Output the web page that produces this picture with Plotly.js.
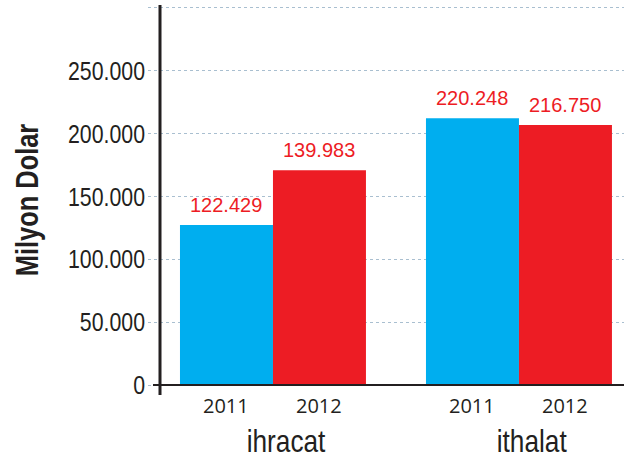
<!DOCTYPE html>
<html>
<head>
<meta charset="utf-8">
<script src="https://cdn.plot.ly/plotly-3.0.1.min.js"></script>
<style>html,body{margin:0;padding:0;background:#fff;}#chart{width:624px;height:459px;}</style>
</head>
<body>
<div id="chart"></div>
<script>
const categories = ["ihracat", "ithalat"];
const years = ["2011", "2012"];
const values2011 = [127200, 212200];
const values2012 = [170900, 206900];
const labels2011 = ["122.429", "220.248"];
const labels2012 = ["139.983", "216.750"];
const yTickVals = [0, 50000, 100000, 150000, 200000, 250000, 300000];
const yTickText = ["0", "50.000", "100.000", "150.000", "200.000", "250.000", ""];

const blue = "#00aeef", red = "#ed1c24", ink = "#231f20";
const baseFont = "Liberation Sans, Arial, sans-serif";
const condense = 0.82;
const bargap = 0.244;
const half = (1 - bargap) / 4;

const traces = [
  {type: "bar", name: years[0], x: categories, y: values2011, marker: {color: blue}, hoverinfo: "skip"},
  {type: "bar", name: years[1], x: categories, y: values2012, marker: {color: red}, hoverinfo: "skip"}
];

const annotations = [];
categories.forEach((c, i) => {
  [[values2011, labels2011, -half, years[0]], [values2012, labels2012, half, years[1]]].forEach(([vals, labs, off, yr]) => {
    annotations.push({x: i + off, y: vals[i], xref: "x", yref: "y", text: labs[i], showarrow: false,
      yanchor: "bottom", yshift: 7, font: {family: baseFont, size: 20, color: red}});
    annotations.push({x: i + off, y: 0, xref: "x", yref: "paper", text: yr, showarrow: false,
      yanchor: "middle", yshift: -10, font: {family: "Open Sans, sans-serif", size: 20, color: ink}});
  });
  annotations.push({x: i, y: 0, xref: "x", yref: "paper", text: c, showarrow: false, xshift: 13,
    yanchor: "middle", yshift: -46, font: {family: baseFont, size: 32, color: ink}});
});

const layout = {
  width: 624, height: 459,
  margin: {l: 148, r: 0, t: 5, b: 64, pad: 0},
  paper_bgcolor: "#fff", plot_bgcolor: "#fff",
  showlegend: false,
  barmode: "group", bargap: bargap, bargroupgap: 0,
  xaxis: {range: [-0.508, 1.427], showticklabels: false, showgrid: false, zeroline: false, showline: false, ticks: "", fixedrange: true},
  yaxis: {
    range: [-7950, 302300], tickvals: yTickVals, ticktext: yTickText,
    showgrid: true, gridcolor: "#a9bfd0", griddash: "dot", gridwidth: 1,
    zeroline: false, showline: false, ticks: "", ticklabelstandoff: 2,
    tickfont: {family: baseFont, size: 26, color: ink},
    title: {text: "Milyon Dolar", standoff: 3, font: {family: baseFont, size: 31, color: ink, weight: "bold"}},
    automargin: false, fixedrange: true
  },
  annotations: annotations,
  shapes: [
    {type: "line", xref: "paper", yref: "paper", x0: 12 / 476, x1: 12 / 476, y0: 0, y1: 1, line: {color: ink, width: 3}, layer: "above"},
    {type: "line", xref: "paper", yref: "y", x0: 5 / 476, x1: 1, y0: 0, y1: 0, line: {color: ink, width: 2}, layer: "above"}
  ]
};

// horizontally condense a text element around its anchor point (no narrow face is installed)
function condenseText(el, s) {
  const bb = el.getBBox();
  const anchor = el.getAttribute("text-anchor") || "start";
  const ax = anchor === "end" ? bb.x + bb.width : anchor === "middle" ? bb.x + bb.width / 2 : bb.x;
  const t = el.getAttribute("transform") || "";
  el.setAttribute("transform", t + " translate(" + ax + ",0) scale(" + s + ",1) translate(" + (-ax) + ",0)");
}

Plotly.newPlot("chart", traces, layout, {staticPlot: true, displayModeBar: false}).then(gd => {
  gd.querySelectorAll(".ytick text").forEach(t => condenseText(t, condense));
  gd.querySelectorAll(".ytitle").forEach(t => condenseText(t, condense));
  gd.querySelectorAll(".annotation-text").forEach(t => {
    if (categories.includes(t.textContent)) condenseText(t, condense);
  });
});
</script>
</body>
</html>
